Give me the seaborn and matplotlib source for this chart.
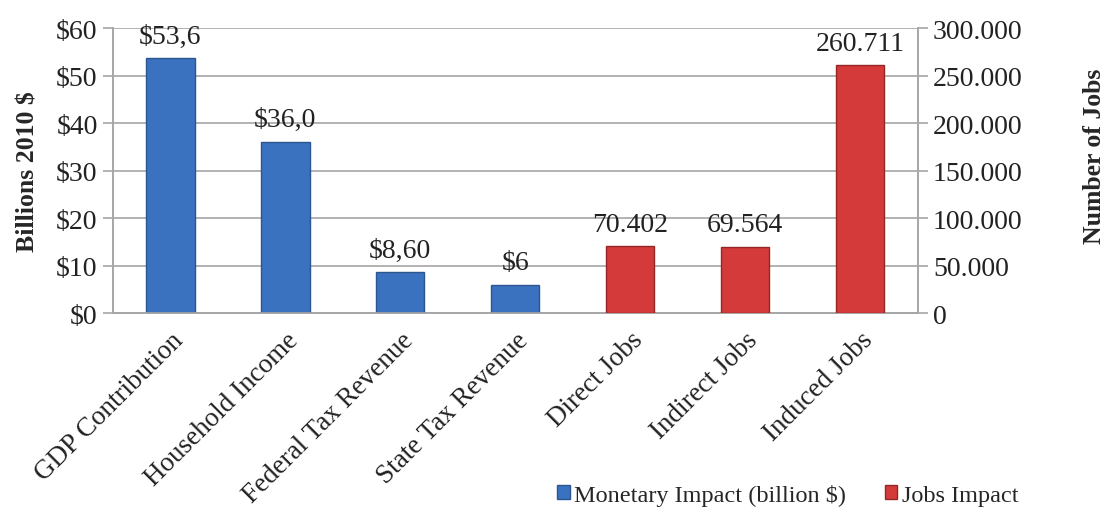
import numpy as np
import pandas as pd
import matplotlib
matplotlib.use("Agg")
import matplotlib.pyplot as plt
import seaborn as sns
from matplotlib.patches import Patch
from matplotlib.ticker import FixedLocator

categories = ["GDP Contribution", "Household Income", "Federal Tax Revenue",
              "State Tax Revenue", "Direct Jobs", "Indirect Jobs", "Induced Jobs"]
money_cats = categories[:4]
money_vals = [53.6, 36.0, 8.6, 5.9]
money_labels = ["$53,6", "$36,0", "$8,60", "$6"]
jobs_cats = categories[4:]
jobs_vals = [70402, 69564, 260711]
jobs_labels = ["70.402", "69.564", "260.711"]
left_ticks = [0, 10, 20, 30, 40, 50, 60]
left_ticklabels = ["$0", "$10", "$20", "$30", "$40", "$50", "$60"]
right_ticks = [0, 50000, 100000, 150000, 200000, 250000, 300000]
right_ticklabels = ["0", "50.000", "100.000", "150.000", "200.000", "250.000", "300.000"]
legend_names = ["Monetary Impact (billion $)", "Jobs Impact"]

sns.set_theme(style="white")
plt.rcParams['font.family'] = ['Liberation Serif', 'DejaVu Serif']

BLUE = "#3a72bf"
BLUE_E = "#2b568f"
RED = "#d43a3a"
RED_E = "#962626"
GRID = "#a6a6a6"
TXT = "#222222"

fig = plt.figure(figsize=(11.07, 5.10), dpi=100)
ax = fig.add_axes([0.102, 0.384, 0.727, 0.559])
ax2 = ax.twinx()

df_m = pd.DataFrame({"cat": money_cats, "val": money_vals})
df_j = pd.DataFrame({"cat": jobs_cats, "val": jobs_vals})

sns.barplot(data=df_m, x="cat", y="val", order=categories, color=BLUE,
            width=0.42, saturation=1, edgecolor=BLUE_E, linewidth=1, ax=ax, zorder=3)
sns.barplot(data=df_j, x="cat", y="val", order=categories, color=RED,
            width=0.42, saturation=1, edgecolor=RED_E, linewidth=1, ax=ax2, zorder=3)

ax.set_ylim(0, 60)
ax2.set_ylim(0, 300000)
ax.set_xlim(-0.5, len(categories) - 0.5)

ax.set_yticks(left_ticks)
ax.set_yticklabels(left_ticklabels, fontsize=20, color=TXT)
ax2.set_yticks(right_ticks)
ax2.set_yticklabels(right_ticklabels, fontsize=20, color=TXT)

ax.yaxis.grid(True, color=GRID, linewidth=1.2, zorder=0)
ax.set_axisbelow(True)

ax.set_xticks(range(len(categories)))
ax.set_xticklabels(categories, rotation=45, ha="right", rotation_mode="anchor",
                   fontsize=19.5, color=TXT)
ax.xaxis.set_minor_locator(FixedLocator(np.arange(-0.5, len(categories), 1.0)))
ax.tick_params(axis="x", which="major", length=0, pad=10)
ax.tick_params(axis="x", which="minor", length=7, width=1.2, color=GRID, direction="out")
ax.tick_params(axis="y", length=7, width=1.2, color=GRID, direction="out", left=True, pad=4)
ax2.tick_params(axis="y", length=7, width=1.2, color=GRID, direction="out", right=True, pad=4)

ax.set_xlabel("")
ax.set_ylabel("Billions 2010 $", fontsize=18.5, fontweight="bold", labelpad=12)
ax2.set_ylabel("Number of Jobs", fontsize=18.5, fontweight="bold")
ax2.yaxis.set_label_coords(1.205, 0.554)

for a in (ax, ax2):
    a.spines["top"].set_visible(False)
    for s in ["left", "right", "bottom"]:
        a.spines[s].set_color(GRID)
        a.spines[s].set_linewidth(1.2)

for i, (v, lab) in enumerate(zip(money_vals, money_labels)):
    ax.annotate(lab, (categories.index(money_cats[i]), v), xytext=(0, 7),
                textcoords="offset points", ha="center", va="bottom",
                fontsize=20, color=TXT, zorder=5)
for i, (v, lab) in enumerate(zip(jobs_vals, jobs_labels)):
    ax2.annotate(lab, (categories.index(jobs_cats[i]), v), xytext=(0, 7),
                 textcoords="offset points", ha="center", va="bottom",
                 fontsize=20, color=TXT, zorder=5)

handles = [Patch(facecolor=BLUE, edgecolor=BLUE_E, label=legend_names[0]),
           Patch(facecolor=RED, edgecolor=RED_E, label=legend_names[1])]
fig.legend(handles=handles, loc="center", bbox_to_anchor=(0.712, 0.028), ncol=2,
           frameon=False, fontsize=17.5, handlelength=0.5, handleheight=0.5,
           handletextpad=0.2, columnspacing=1.6, borderaxespad=0)

fig.savefig("out.png", dpi=100)
